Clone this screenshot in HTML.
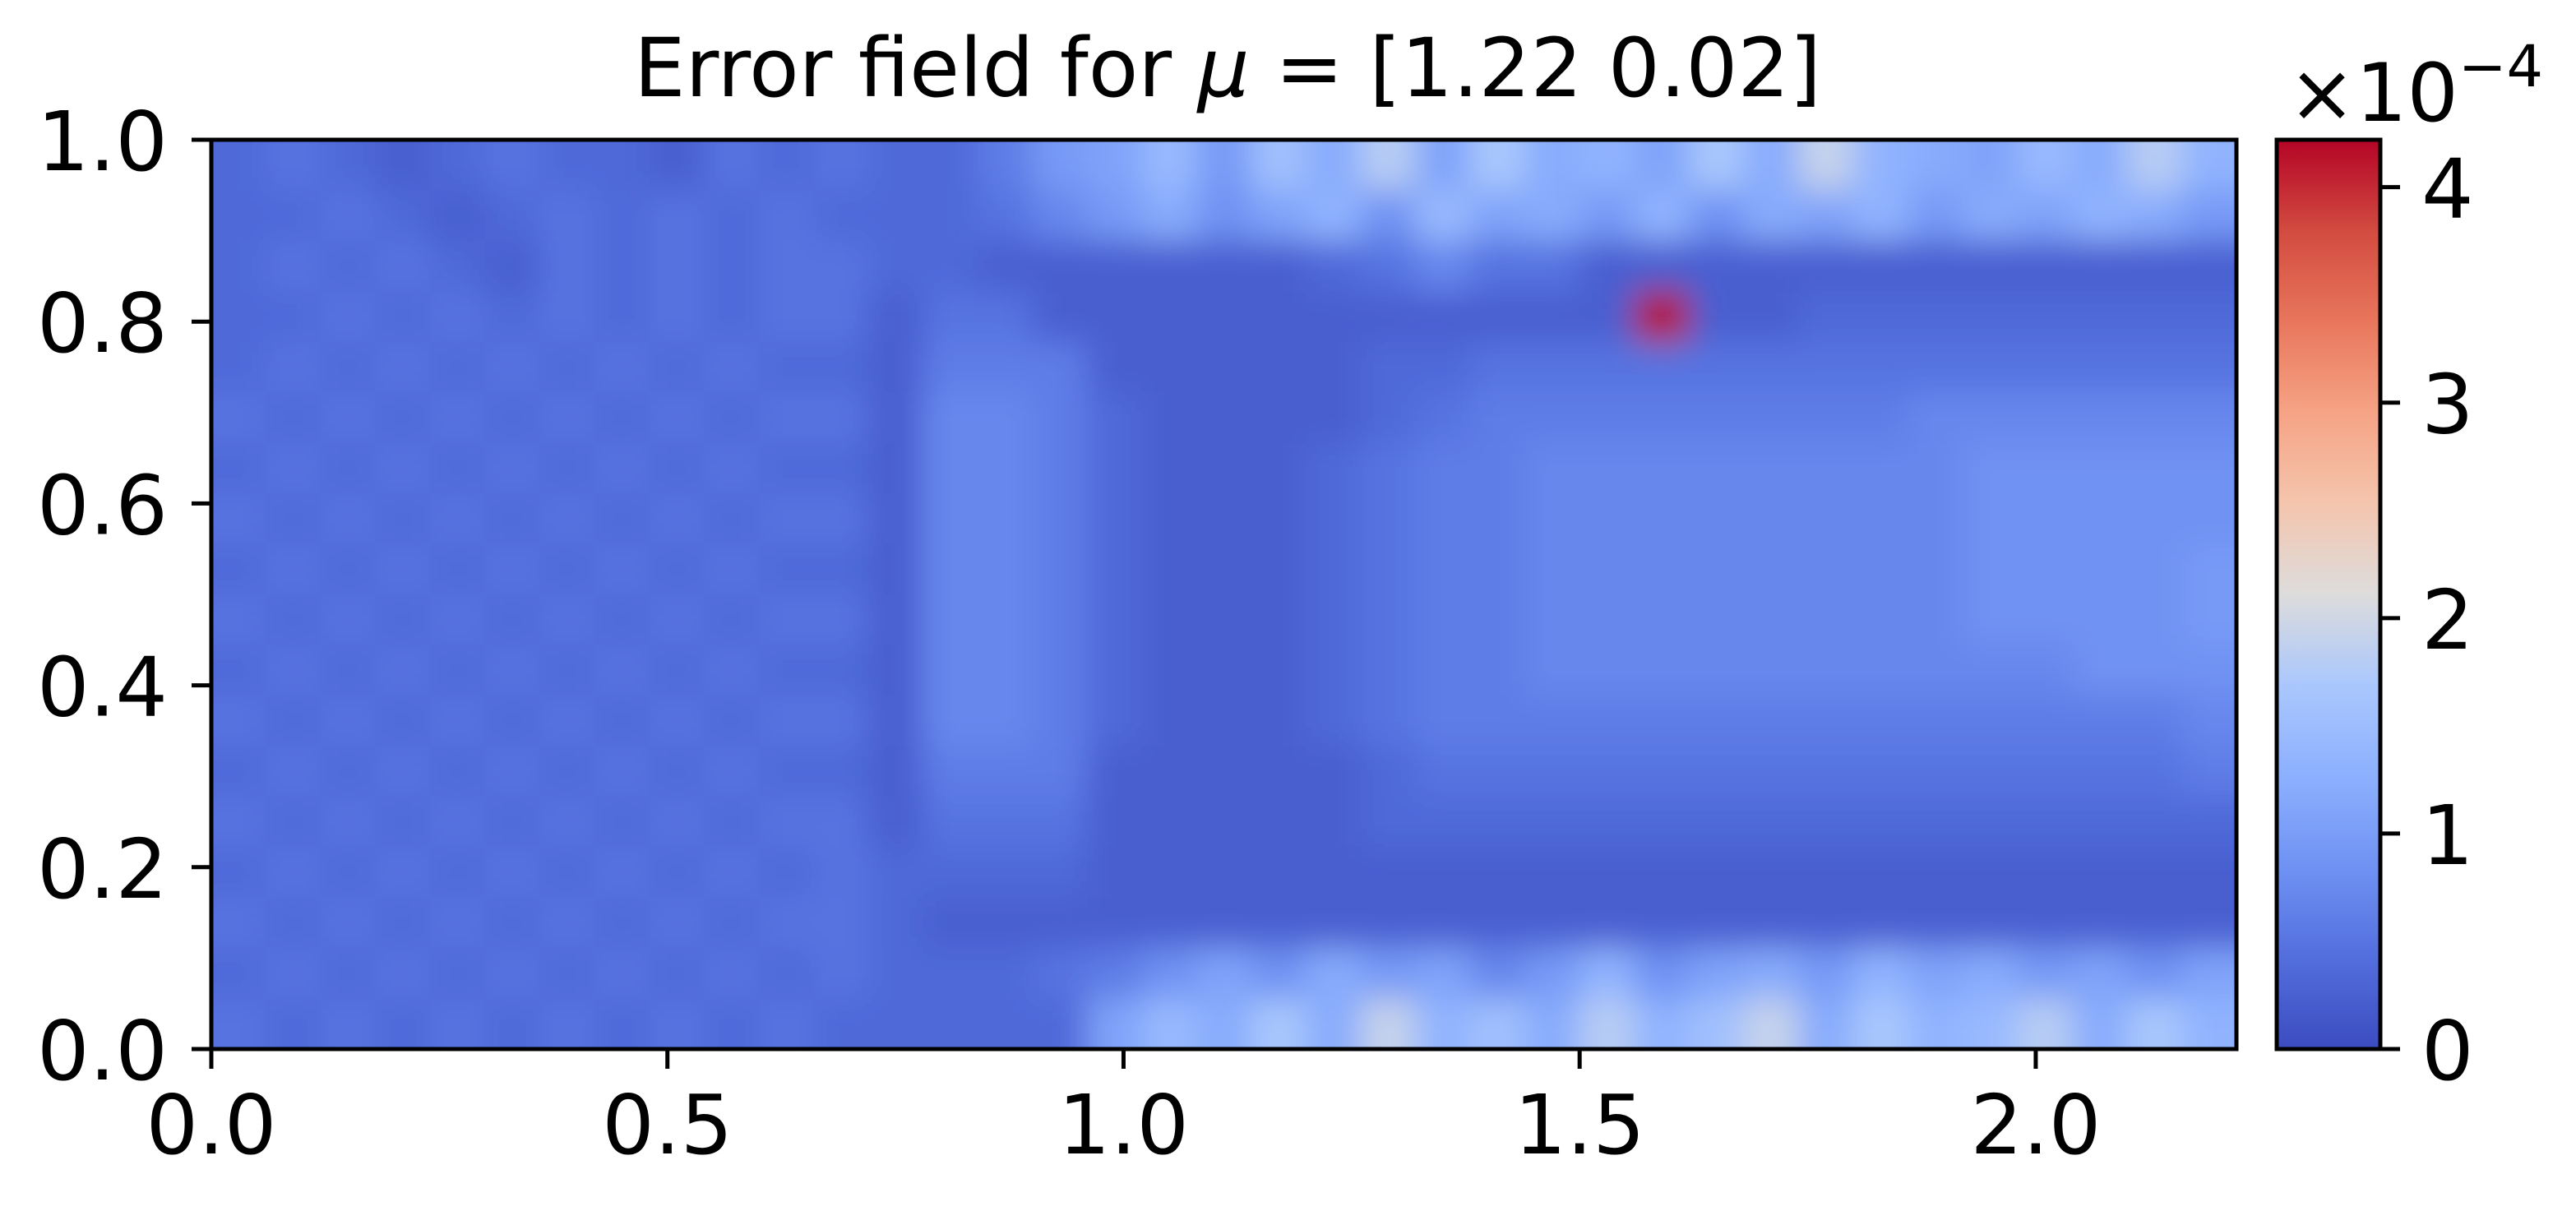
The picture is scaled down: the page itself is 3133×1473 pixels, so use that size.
<!DOCTYPE html>
<html><head><meta charset="utf-8"><style>
html,body{margin:0;padding:0;background:#fff;}
svg{display:block;font-family:"DejaVu Sans","Liberation Sans",sans-serif;}
</style></head><body>
<svg id="chart" width="3133" height="1473" viewBox="0 0 3133 1473" xmlns="http://www.w3.org/2000/svg">
<defs>
<filter id="blur" x="-10%" y="-10%" width="120%" height="120%"><feGaussianBlur stdDeviation="20"/></filter>
<clipPath id="plotclip"><rect x="257" y="170" width="2463" height="1106"/></clipPath>
<linearGradient id="cbgrad" x1="0" y1="1" x2="0" y2="0">
<stop offset="0" stop-color="#3b4cc0"/><stop offset="0.1" stop-color="#536edd"/><stop offset="0.2" stop-color="#6f92f3"/><stop offset="0.3" stop-color="#8db0fe"/><stop offset="0.4" stop-color="#aac7fd"/><stop offset="0.5" stop-color="#dddcdc"/><stop offset="0.6" stop-color="#f4c5ad"/><stop offset="0.7" stop-color="#f6a385"/><stop offset="0.8" stop-color="#e8765c"/><stop offset="0.9" stop-color="#d24b40"/><stop offset="1" stop-color="#b40426"/>
</linearGradient>
</defs>
<text x="1493" y="117" font-size="99" text-anchor="middle">Error field for <tspan font-style="italic">μ</tspan> = [1.22 0.02]</text>
<g id="field" clip-path="url(#plotclip)"><g id="cells" filter="url(#blur)"></g></g>
<rect x="257" y="170" width="2463" height="1106" fill="none" stroke="#000" stroke-width="5"/>
<g id="xaxis"></g>
<g id="yaxis"></g>
<rect x="2769" y="170" width="126" height="1106" fill="url(#cbgrad)" stroke="#000" stroke-width="5"/>
<g id="cbaxis"></g>
<text x="2783" y="147" font-size="98">×10<tspan font-size="70" dy="-42">−4</tspan></text>
</svg>
<script>
const xTicks = [0.0, 0.5, 1.0, 1.5, 2.0];
const xTickLabels = ["0.0","0.5","1.0","1.5","2.0"];
const yTicks = [0.0, 0.2, 0.4, 0.6, 0.8, 1.0];
const yTickLabels = ["0.0","0.2","0.4","0.6","0.8","1.0"];
const cbTicks = [0, 1, 2, 3, 4];
const cbTickLabels = ["0","1","2","3","4"];
const xDomain = [0, 2.22];
const yDomain = [0, 1];
const cbDomain = [0, 4.22];
const levelStep = 0.12; // x1e-4 per base36 level
// rows from top (y=1) to bottom (y=0); base36 error levels
const fieldRows = [
"34323433243"+"4"+"3358"+"9C8D"+"AF9EAB9EAGBA9CAFB",
"33432343434"+"3"+"3346"+"8A79"+"B7C9A8B7A9B8A9BA8",
"34343243434"+"4"+"3322"+"2222"+"34644222222222222",
"33434343434"+"4"+"2442"+"2222"+"222222Z2233333333",
"34343434343"+"3"+"2555"+"2222"+"23344444444444444",
"43434343434"+"4"+"2665"+"3222"+"23455555555666666",
"34343434343"+"3"+"2665"+"3222"+"34556666666677777",
"43434343434"+"4"+"2665"+"3222"+"34556666666677777",
"34343434343"+"3"+"2665"+"3222"+"34556666666677778",
"43434343434"+"4"+"2665"+"3222"+"34556666666677778",
"34343434343"+"3"+"2665"+"3222"+"34556666666666777",
"43434343434"+"4"+"2665"+"3222"+"34555555555555556",
"34343434343"+"3"+"2555"+"2222"+"23444444444444445",
"43434343434"+"4"+"2444"+"2222"+"23333333333333333",
"34343434343"+"4"+"3333"+"2222"+"22222222222222222",
"43434343434"+"4"+"3222"+"2222"+"22222222222222222",
"34343434343"+"4"+"3334"+"5797"+"A8968B79A8B9A8979",
"43434343434"+"3"+"3333"+"9CAE"+"AGBDAFBDGAEBCFAEB"
];
const NS = "http://www.w3.org/2000/svg";
const PL = 257, PR = 2720, PT = 170, PB = 1276;
function xScale(v){ return PL + (v - xDomain[0]) / (xDomain[1] - xDomain[0]) * (PR - PL); }
function yScale(v){ return PB - (v - yDomain[0]) / (yDomain[1] - yDomain[0]) * (PB - PT); }
function cbScale(v){ return PB - (v - cbDomain[0]) / (cbDomain[1] - cbDomain[0]) * (PB - PT); }
const cmapStops = [[59,76,192],[83,110,221],[111,146,243],[141,176,254],[170,199,253],[221,220,220],[244,197,173],[246,163,133],[232,118,92],[210,75,64],[180,4,38]];
function cmap(t){
  t = Math.max(0, Math.min(1, t)) * 10;
  const i = Math.min(9, Math.floor(t)), f = t - i;
  const a = cmapStops[i], b = cmapStops[i+1];
  return "rgb(" + a.map((c,k)=>Math.round(c + (b[k]-c)*f)).join(",") + ")";
}
function mk(tag, attrs, parent){
  const e = document.createElementNS(NS, tag);
  for (const k in attrs) e.setAttribute(k, attrs[k]);
  parent.appendChild(e); return e;
}
const cells = document.getElementById("cells");
const nRows = fieldRows.length, nCols = fieldRows[0].length;
const dx = (xDomain[1]-xDomain[0]) / nCols, dy = (yDomain[1]-yDomain[0]) / nRows;
const pad = 80;
for (let r = 0; r < nRows; r++){
  for (let c = 0; c < nCols; c++){
    const v = parseInt(fieldRows[r][c] || "3", 36) * levelStep;
    let x0 = xScale(c*dx), x1 = xScale((c+1)*dx);
    let yTop = yScale(yDomain[1] - r*dy), yBot = yScale(yDomain[1] - (r+1)*dy);
    if (c === 0) x0 -= pad;
    if (c === nCols-1) x1 += pad;
    if (r === 0) yTop -= pad;
    if (r === nRows-1) yBot += pad;
    const el = mk("rect", {x: x0, y: yTop, width: x1-x0+1, height: yBot-yTop+1, fill: cmap(v / cbDomain[1])}, cells);
    
    
  }
}
const xa = document.getElementById("xaxis");
xTicks.forEach((v,i)=>{
  const x = xScale(v);
  const t = mk("line", {x1:x, x2:x, y1:PB, y2:PB+24, stroke:"#000", "stroke-width":5}, xa);
  
  
  const l = mk("text", {x:x, y:PB+127, "font-size":100, "text-anchor":"middle"}, xa);
  l.textContent = xTickLabels[i];
  
  
});
const ya = document.getElementById("yaxis");
yTicks.forEach((v,i)=>{
  const y = yScale(v);
  const t = mk("line", {x1:PL-24, x2:PL, y1:y, y2:y, stroke:"#000", "stroke-width":5}, ya);
  
  
  const l = mk("text", {x:PL-53, y:y+37, "font-size":100, "text-anchor":"end"}, ya);
  l.textContent = yTickLabels[i];
  
  
});
const ca = document.getElementById("cbaxis");
cbTicks.forEach((v,i)=>{
  const y = cbScale(v);
  const t = mk("line", {x1:2895, x2:2919, y1:y, y2:y, stroke:"#000", "stroke-width":5}, ca);
  
  
  const l = mk("text", {x:2945, y:y+37, "font-size":100}, ca);
  l.textContent = cbTickLabels[i];
  
  
});
</script>
</body></html>
